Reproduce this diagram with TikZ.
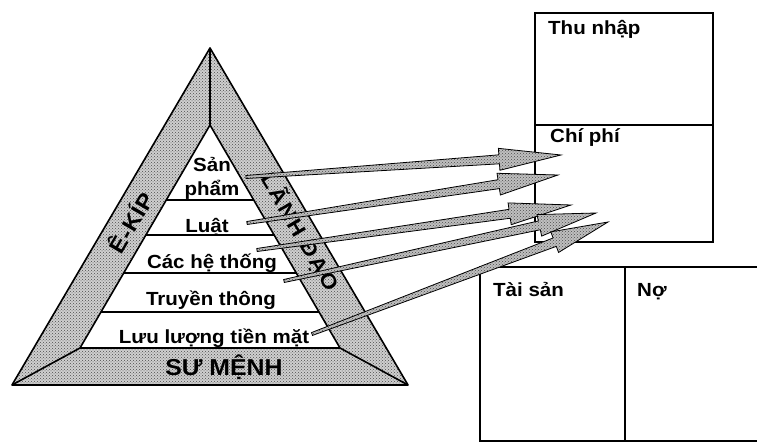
\documentclass[tikz,border=0pt]{standalone}
\usepackage{fontspec}
\setmainfont{Liberation Sans}[FakeStretch=1.08]
\usetikzlibrary{calc,patterns}
\tikzset{
  stip/.style={preaction={fill=gray!38, even odd rule}, pattern=crosshatch dots, pattern color=black!70, even odd rule},
  edgeline/.style={line width=1.6pt, line join=round},
  tierline/.style={line width=1.2pt},
  boxline/.style={line width=1.4pt},
  lbl/.style={font=\bfseries\fontsize{19}{19}\selectfont, inner sep=0pt, anchor=base},
  boxlbl/.style={font=\bfseries\fontsize{19}{19}\selectfont, inner sep=0pt, anchor=base west},
  striplbl/.style={font=\bfseries\fontsize{22}{22}\selectfont\addfontfeature{LetterSpace=3}, inner sep=0pt},
  arrowfill/.style={preaction={fill=gray!50}, pattern=crosshatch dots, pattern color=black!70, draw=black, line width=0.8pt, line join=miter},
}
\newcommand\myarrow[4]{%
  \coordinate (#1s) at (#2);
  \coordinate (#1t) at (#3);
  \coordinate (#1b) at ($(#1t)!#4!(#1s)$);
  \draw[arrowfill]
    ($(#1s)!1.5pt!90:(#1t)$) --
    ($(#1b)!4.5pt!90:(#1t)$) --
    ($(#1b)!11pt!90:(#1t)$) --
    (#1t) --
    ($(#1b)!11pt!-90:(#1t)$) --
    ($(#1b)!4.5pt!-90:(#1t)$) --
    ($(#1s)!1.5pt!-90:(#1t)$) -- cycle;
}
\begin{document}
\begin{tikzpicture}[x=1pt,y=-1pt]
\useasboundingbox (0,0) rectangle (757,443);
\clip (0,0) rectangle (757,443);

% pyramid
\coordinate (O1) at (210,48);
\coordinate (O2) at (12,385);
\coordinate (O3) at (408,385);
\coordinate (I1) at (210,125);
\coordinate (I2) at (80,348);
\coordinate (I3) at (340,348);

\path[stip] (O1) -- (O2) -- (O3) -- cycle (I1) -- (I2) -- (I3) -- cycle;
\draw[edgeline] (O1) -- (O2) -- (O3) -- cycle;
\draw[edgeline] (I1) -- (I2) -- (I3) -- cycle;
\draw[edgeline] (O1) -- (I1);
\draw[edgeline] (O2) -- (I2);
\draw[edgeline] (O3) -- (I3);

% tier lines
\foreach \t/\n in {0.336/a,0.493/b,0.664/c,0.839/d}{
  \coordinate (L\n) at ($(I1)!\t!(I2)$);
  \coordinate (R\n) at ($(I1)!\t!(I3)$);
  \draw[tierline] (L\n) -- (R\n);
}

% boxes
\coordinate (tb1) at (535,13);
\coordinate (tb2) at (713,242);
\coordinate (tbm1) at (535,125);
\coordinate (tbm2) at (713,125);
\draw[boxline] (tb1) rectangle (tb2);
\draw[boxline] (tbm1) -- (tbm2);
\coordinate (bb1) at (480,267);
\coordinate (bb2) at (775,441);
\coordinate (bbm1) at (625,267);
\coordinate (bbm2) at (625,441);
\draw[boxline] (bb1) rectangle (bb2);
\draw[boxline] (bbm1) -- (bbm2);

\node[boxlbl] (thu) at (548,35) {Thu nhập};
\node[boxlbl] (chi) at (550,143) {Chí phí};
\node[boxlbl] (tai) at (493,297) {Tài sản};
\node[boxlbl] (no) at (637,297) {Nợ};

% labels in pyramid
\node[lbl] (san) at (212,172) {Sản};
\node[lbl] (pham) at (212,196) {phẩm};
\node[lbl] (luat) at (207,233) {Luật};
\node[lbl] (cac) at (212,269) {Các hệ thống};
\node[lbl] (truyen) at (211,306) {Truyền thông};
\node[lbl] (luu) at (214,343) {Lưu lượng tiền mặt};
\node[lbl, font=\bfseries\fontsize{23}{23}\selectfont] (sumenh) at (224,375) {SƯ MỆNH};
\node[striplbl, rotate=59.6] (ekip) at (130,222) {Ê-KÍP};
\node[striplbl, rotate=-59.6, font=\bfseries\fontsize{21}{21}\selectfont\addfontfeature{LetterSpace=10}] (lanh) at (300,232) {LÃNH ĐẠO};

% arrows
\myarrow{a1}{246,177}{561,155}{62pt}
\myarrow{a2}{247,223}{558,175}{60pt}
\myarrow{a3}{257,250}{571,205}{62pt}
\myarrow{a4}{284,281}{596,213}{58pt}
\myarrow{a5}{312,334}{608,222}{57pt}
\end{tikzpicture}
\end{document}
